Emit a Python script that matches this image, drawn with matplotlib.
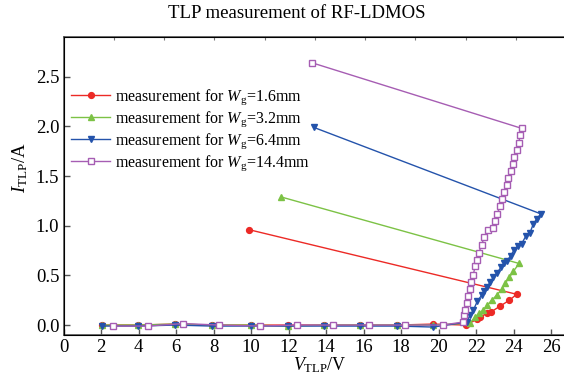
import numpy as np
import matplotlib
matplotlib.use("Agg")
import matplotlib.pyplot as plt

plt.rcParams["font.family"] = ["Liberation Serif", "DejaVu Serif"]
plt.rcParams["mathtext.fontset"] = "custom"
plt.rcParams["mathtext.rm"] = "Liberation Serif"
plt.rcParams["mathtext.it"] = "Liberation Serif:italic"

# flat (off-state) part, shared sweep voltages
v_flat = [2.04, 3.96, 5.95, 7.90, 9.98, 11.96, 13.89, 15.81, 17.80, 19.72]
v_flat_w144 = [2.65, 4.49, 6.39, 8.31, 10.48, 12.47, 14.36, 16.31, 18.21, 20.22]

# Wg = 1.6 mm
v_16 = v_flat + [21.47, 22.07, 22.21, 22.60, 22.78, 23.28, 23.78, 24.17, 9.90]
i_16 = [0.0, 0.0, 0.01, 0.0, 0.0, 0.0, 0.0, 0.0, 0.0, 0.01,
        0.0, 0.06, 0.08, 0.12, 0.13, 0.19, 0.25, 0.31, 0.96]

# Wg = 3.2 mm
v_32 = v_flat + [21.68, 21.95, 22.18, 22.39, 22.60, 22.84, 23.10, 23.37,
                 23.55, 23.78, 23.99, 24.30, 11.60]
i_32 = [0.0, 0.0, 0.01, 0.0, 0.0, -0.01, 0.0, 0.0, 0.0, 0.0,
        0.02, 0.08, 0.12, 0.15, 0.20, 0.25, 0.30, 0.36,
        0.42, 0.48, 0.54, 0.62, 1.29]

# Wg = 6.4 mm
v_64 = v_flat + [21.50, 21.68, 21.86, 22.07, 22.30, 22.45, 22.57, 22.75, 22.92,
                 23.10, 23.33, 23.50, 23.67, 23.85, 24.05, 24.25, 24.44, 24.67,
                 24.88, 25.06, 25.25, 25.45, 13.35]
i_64 = [-0.01, -0.01, 0.0, -0.01, -0.01, -0.01, -0.01, -0.01, -0.01, -0.02,
        0.03, 0.10, 0.15, 0.24, 0.30, 0.34, 0.38, 0.43, 0.48,
        0.52, 0.58, 0.62, 0.65, 0.70, 0.76, 0.80, 0.82, 0.90,
        0.93, 1.02, 1.07, 1.12, 1.99]

# Wg = 14.4 mm
v_144 = v_flat_w144 + [21.29, 21.36, 21.41, 21.50, 21.59, 21.68, 21.73, 21.84, 21.96,
                       22.07, 22.16, 22.30, 22.45, 22.63, 22.90, 23.01, 23.14, 23.28,
                       23.37, 23.51, 23.64, 23.72, 23.85, 23.96, 24.05, 24.20, 24.28,
                       24.35, 24.44, 13.26]
i_144 = [-0.01, -0.01, 0.015, 0.0, -0.01, 0.0, 0.0, 0.0, 0.0, 0.0,
         0.03, 0.10, 0.15, 0.22, 0.29, 0.36, 0.43, 0.50, 0.59,
         0.66, 0.73, 0.81, 0.89, 0.96, 0.98, 1.05, 1.12, 1.20,
         1.27, 1.34, 1.41, 1.48, 1.55, 1.62, 1.69, 1.76, 1.83,
         1.91, 1.98, 2.64]

labels = [r"measurement for $\mathit{W}_{\mathrm{g}}$=1.6mm",
          r"measurement for $\mathit{W}_{\mathrm{g}}$=3.2mm",
          r"measurement for $\mathit{W}_{\mathrm{g}}$=6.4mm",
          r"measurement for $\mathit{W}_{\mathrm{g}}$=14.4mm"]

x_ticks = [0, 2, 4, 6, 8, 10, 12, 14, 16, 18, 20, 22, 24, 26]
y_ticks = [0.0, 0.5, 1.0, 1.5, 2.0, 2.5]

fig = plt.figure(figsize=(5.64, 3.75), dpi=100)
ax = fig.add_axes([63.5 / 564, 40 / 375, 27 * 18.75 / 564, 298 / 375])

ax.plot(v_16, i_16, color="#ec2a26", lw=1.0, marker="o", ms=4.2, label=labels[0])
ax.plot(v_32, i_32, color="#7cc245", lw=1.0, marker="^", ms=5, label=labels[1])
ax.plot(v_64, i_64, color="#2453ab", lw=1.0, marker="v", ms=5, label=labels[2])
ax.plot(v_144, i_144, color="#a65db3", lw=1.0, marker="s", ms=3.8, mfc="white",
        mew=1.0, label=labels[3])

ax.set_xlim(0, 27)
ax.set_ylim(-0.1, 2.9)
ax.set_xticks(x_ticks)
ax.set_yticks(y_ticks)
ax.set_yticklabels([f"{v:.1f}" for v in y_ticks])
ax.tick_params(direction="in", length=4.5, width=1.0, labelsize=13.5, pad=3,
               color="#555555")
ax.tick_params(axis="x", pad=3)
for s in ax.spines.values():
    s.set_color("#555555")
    s.set_linewidth(1.2)

top = ax.twiny()
top.set_xlim(ax.get_xlim())
top.set_xticks(np.arange(1, 10) * 2.68)
top.tick_params(direction="in", length=2, width=0.8, labeltop=False, color="#777777")

ax.set_ylabel(r"$\mathit{I}_{\mathrm{TLP}}$/A", fontsize=13.5)
ax.yaxis.set_label_coords(-0.066, 0.56)
fig.text(320 / 564, 4.5 / 375, r"$\mathit{V}_{\mathrm{TLP}}$/V", fontsize=13,
         ha="center", va="baseline")

fig.text(297 / 564, 1 - 14 / 375, "TLP measurement of RF-LDMOS", fontsize=13.5,
         ha="center", va="center")

ax.legend(loc="upper left", bbox_to_anchor=(0.0, 0.857), frameon=False,
          fontsize=11.5, handlelength=2.4, handletextpad=0.3, labelspacing=0.15,
          borderaxespad=0.2, borderpad=0.3)

fig.savefig("out.png", dpi=100)
